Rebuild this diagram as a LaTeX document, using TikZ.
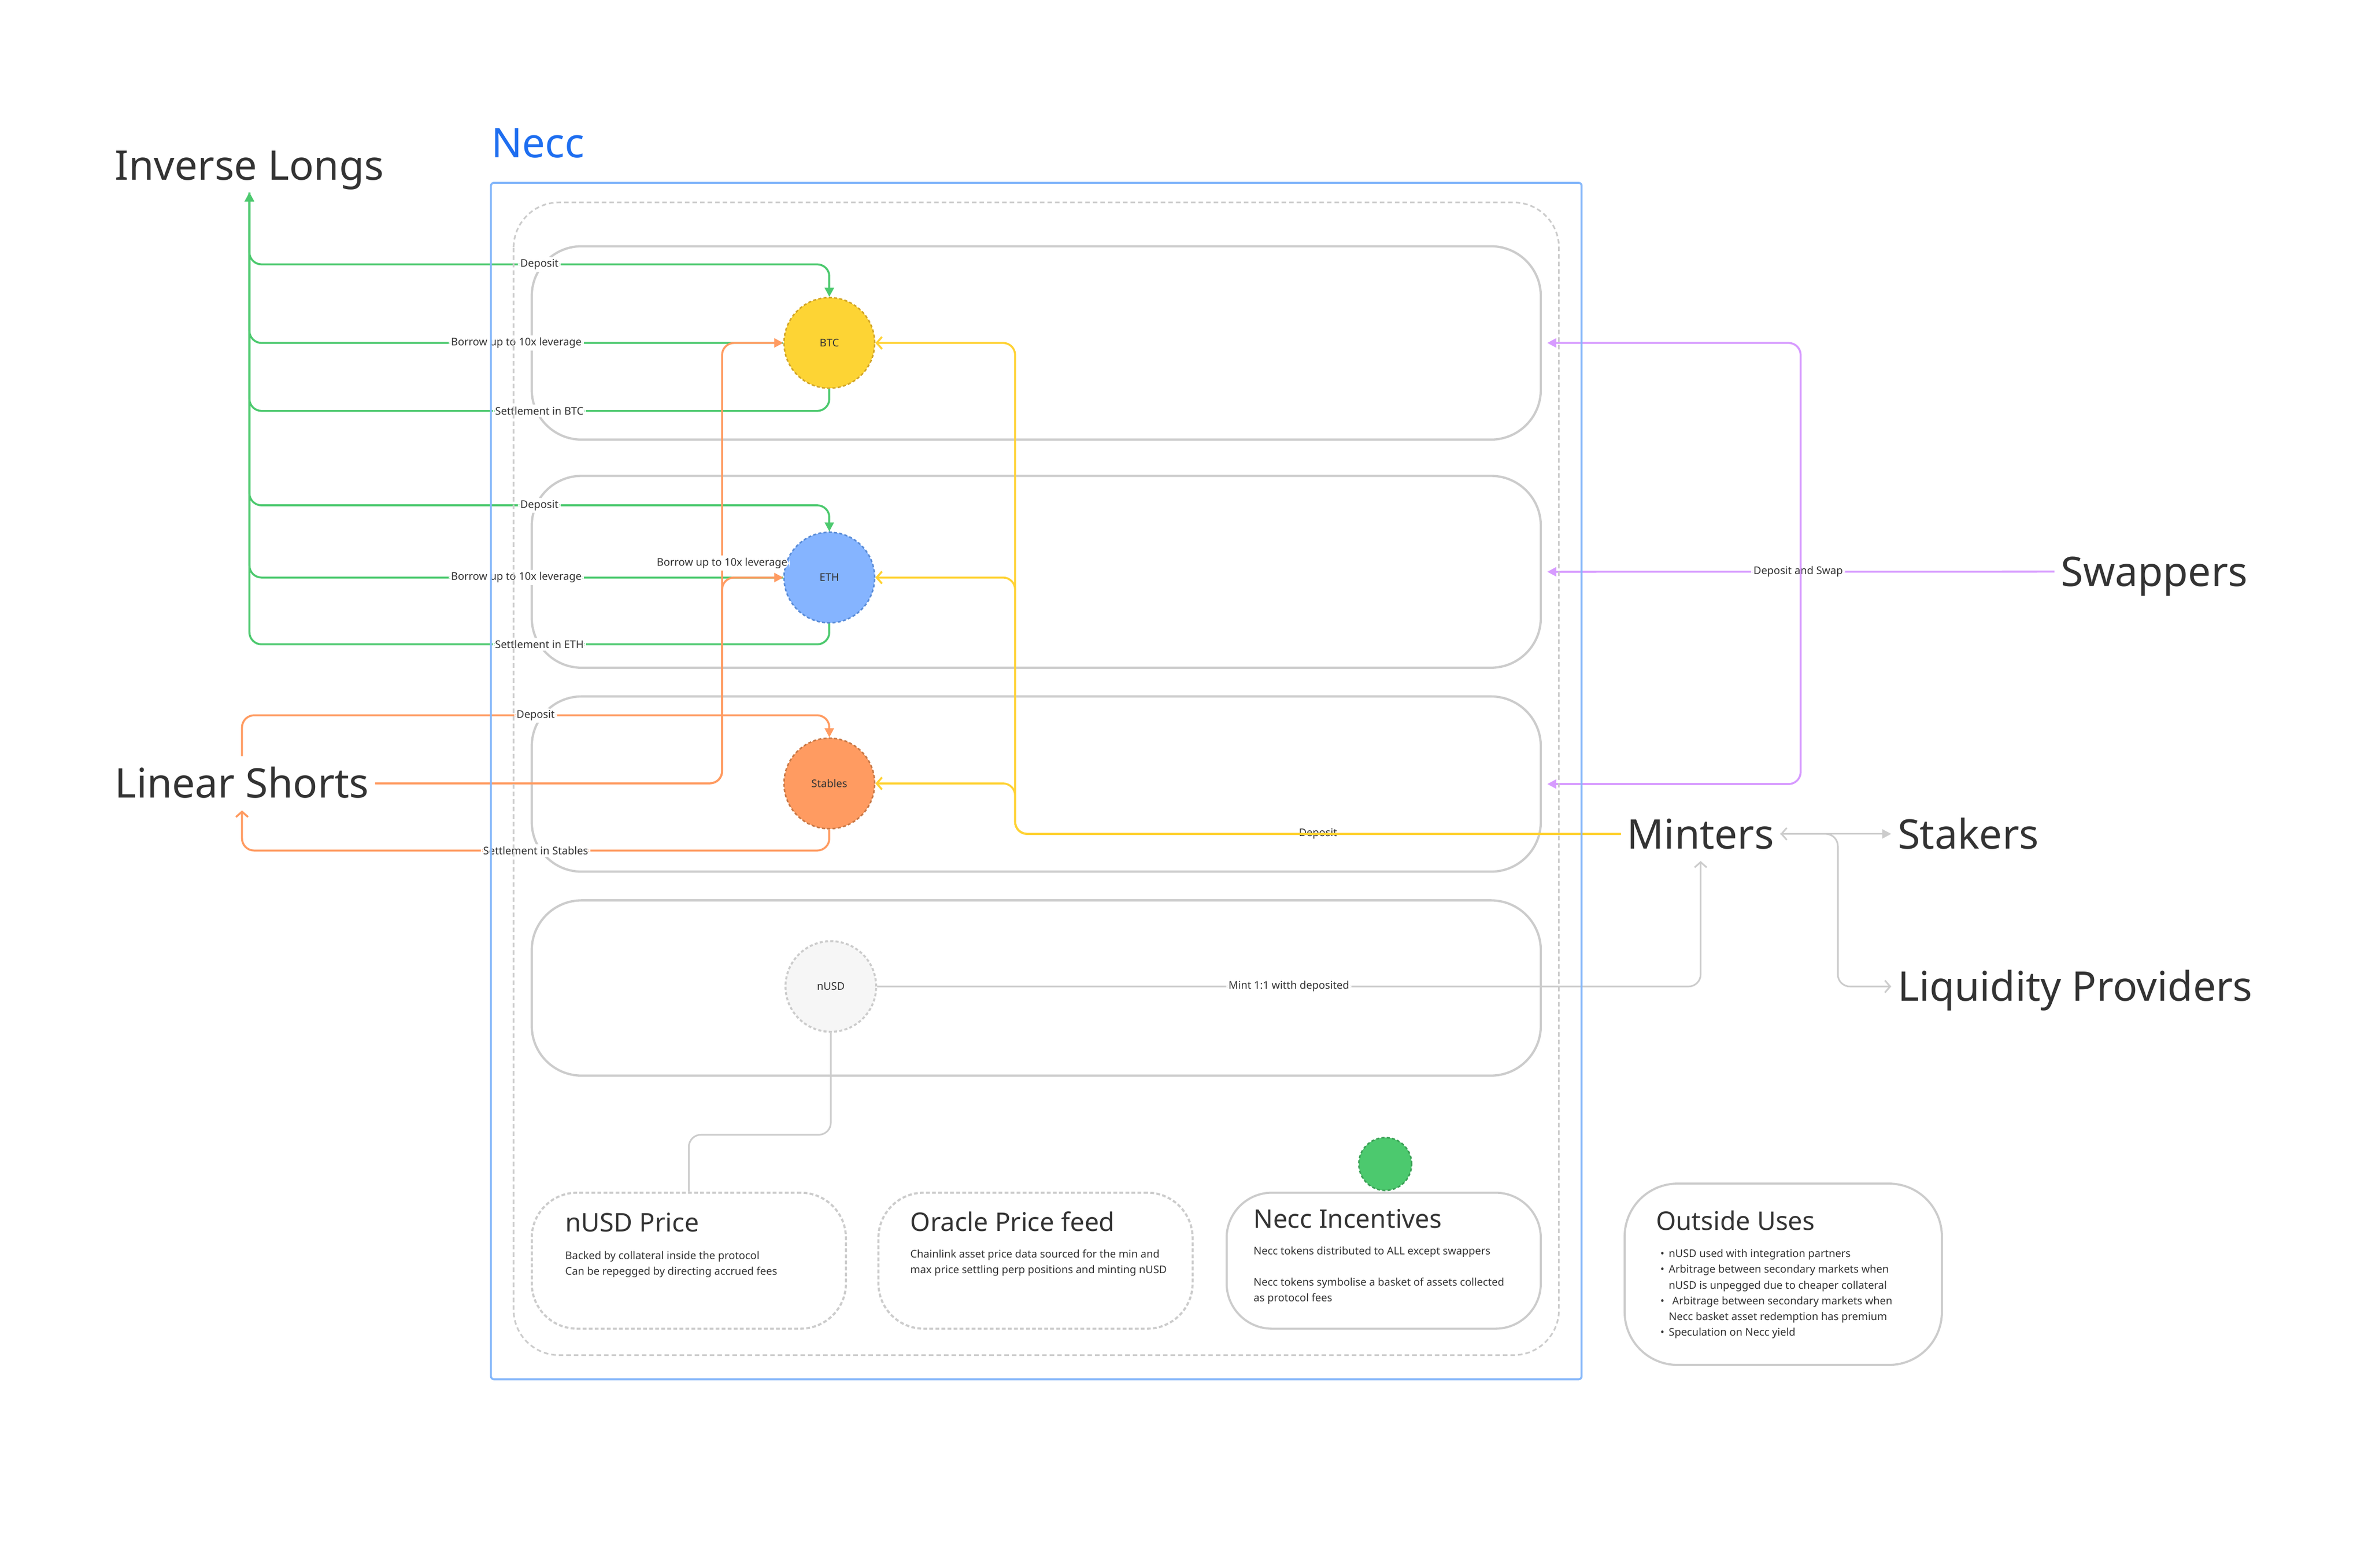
\documentclass[tikz,border=0pt]{standalone}
\usepackage{fontspec}
\setmainfont{Noto Sans}
\usetikzlibrary{arrows.meta, positioning, calc}

\definecolor{ink}{RGB}{51,51,51}
\definecolor{longc}{RGB}{76,201,110}
\definecolor{longdark}{RGB}{58,160,85}
\definecolor{shortc}{RGB}{255,155,97}
\definecolor{stbline}{RGB}{200,120,70}
\definecolor{mintc}{RGB}{255,210,51}
\definecolor{btcfill}{RGB}{253,212,52}
\definecolor{btcline}{RGB}{210,165,40}
\definecolor{ethfill}{RGB}{133,180,255}
\definecolor{ethline}{RGB}{90,140,215}
\definecolor{swapc}{RGB}{215,155,255}
\definecolor{greyc}{RGB}{204,204,204}
\definecolor{usdfill}{RGB}{246,246,246}
\definecolor{framec}{RGB}{133,183,250}
\definecolor{neccblue}{RGB}{30,110,240}

\newcommand{\outbul}{\makebox[5.5pt][l]{\textbullet}}
\newcommand{\outgap}{\hspace*{5.5pt}}

\tikzset{
  tipfill/.tip={Triangle[length=6pt,width=6pt]},
  tipopen/.tip={Straight Barb[length=3.5pt,width=8pt]},
  actor/.style={font=\fontsize{27}{30}\selectfont, text=ink, text height=19.5pt, text depth=0pt, inner xsep=4pt, inner ysep=8pt, anchor=west},
  lbl/.style={font=\fontsize{7}{8}\selectfont, text=ink, fill=white, inner sep=1.5pt},
  lane/.style={draw=greyc, line width=1.5pt, rounded corners=33pt, minimum width=668pt},
  coin/.style={circle, minimum size=60pt, inner sep=0pt, line width=1pt, dash pattern=on 2pt off 1.5pt, font=\fontsize{7}{8}\selectfont, text=ink},
  link/.style={line width=1.3pt, rounded corners=8pt},
  notebox/.style={draw=greyc, line width=1.4pt, dash pattern=on 2.5pt off 1.5pt, rounded corners=30pt, minimum width=208pt, minimum height=90pt},
  boxtitle/.style={font=\fontsize{17}{20}\selectfont, text=ink, inner sep=0pt, anchor=base west},
  boxtext/.style={font=\fontsize{7}{10.4}\selectfont, text=ink, inner sep=0pt, align=left, anchor=north west}
}

\begin{document}
\begin{tikzpicture}[x=1pt,y=-1pt]
  \useasboundingbox (0,0) rectangle (1567.6,1037.6);

  \node[lane, minimum height=128pt] (laneBTC) at (686,227) {};
  \node[lane, minimum height=127pt] (laneETH) at (686,378.5) {};
  \node[lane, minimum height=116pt] (laneSTB) at (686,519) {};
  \node[lane, minimum height=116pt] (laneUSD) at (686,654) {};

  \node[coin, fill=btcfill, draw=btcline] (btc) at (549,227) {BTC};
  \node[coin, fill=ethfill, draw=ethline] (eth) at (549,382.3) {ETH};
  \node[coin, fill=shortc, draw=stbline] (stb) at (549,518.6) {Stables};
  \node[coin, fill=usdfill, draw=greyc, line width=1.3pt] (nusd) at (550,653) {nUSD};
  \node[coin, minimum size=35pt, fill=longc, draw=longdark] (neccdot) at (917,770.5) {};

  \node[actor] (inverse) at (72,109.5) {Inverse Longs};
  \node[actor] (shorts) at (72,518.5) {Linear Shorts};
  \node[actor] (swappers) at (1360,378.4) {Swappers};
  \node[actor] (minters) at (1073,552) {Minters};
  \node[actor] (stakers) at (1252,552) {Stakers};
  \node[actor] (lp) at (1252,653) {Liquidity Providers};
  \node[actor, text=neccblue] (necc) at (321,94.4) {Necc};

  \node[notebox] (pricebox) at (456,834.5) {};
  \node[notebox] (oraclebox) at (685.5,834.5) {};
  \node[notebox, solid] (incentbox) at (916,834.5) {};
  \node[notebox, solid, minimum width=210pt, minimum height=120pt, rounded corners=35pt] (outbox) at (1180.5,843.5) {};

  \node[boxtitle] (pricehead) at (374,815.3) {nUSD Price};
  \node[boxtext] (pricetext) at (374,828) {Backed by collateral inside the protocol\\Can be repegged by directing accrued fees};
  \node[boxtitle] (oraclehead) at (602.4,815) {Oracle Price feed};
  \node[boxtext] (oracletext) at (602.4,827) {Chainlink asset price data sourced for the min and\\max price settling perp positions and minting nUSD};
  \node[boxtitle] (incenthead) at (829.7,813) {Necc Incentives};
  \node[boxtext] (incenttext) at (829.7,825) {Necc tokens distributed to ALL except swappers\\[10.4pt]Necc tokens symbolise a basket of assets collected\\as protocol fees};
  \node[boxtitle] (outhead) at (1096,814.4) {Outside Uses};
  \node[boxtext] (outtext) at (1099,826.8) {\outbul nUSD used with integration partners\\\outbul Arbitrage between secondary markets when\\\outgap nUSD is unpegged due to cheaper collateral\\\outbul\,\,Arbitrage between secondary markets when\\\outgap Necc basket asset redemption has premium\\\outbul Speculation on Necc yield};

  \coordinate (rowA) at (0,175);
  \coordinate (rowB) at (0,272);
  \coordinate (rowC) at (0,334.5);
  \coordinate (rowD) at (0,426.5);
  \coordinate (rowE) at (0,473.5);
  \coordinate (rowF) at (0,563);
  \coordinate (spineS) at (478,0);
  \coordinate (spineM) at (672,0);
  \coordinate (spineW) at (1192,0);

  \draw[link, draw=longc, -tipfill] (inverse.south) |- node[lbl, pos=0.75] {Deposit} (btc |- rowA) -- (btc.north);
  \draw[link, draw=longc, -tipfill] (btc.west) -- node[lbl] {Borrow up to 10x leverage} (inverse.south |- btc.west) -- (inverse.south);
  \draw[link, draw=longc, -tipfill] (btc.south) |- node[lbl, pos=0.75] {Settlement in BTC} (inverse.south |- rowB) -- (inverse.south);
  \draw[link, draw=longc, -tipfill] (inverse.south) |- node[lbl, pos=0.75] {Deposit} (eth |- rowC) -- (eth.north);
  \draw[link, draw=longc, -tipfill] (eth.west) -- node[lbl] {Borrow up to 10x leverage} (inverse.south |- eth.west) -- (inverse.south);
  \draw[link, draw=longc, -tipfill] (eth.south) |- node[lbl, pos=0.75] {Settlement in ETH} (inverse.south |- rowD) -- (inverse.south);

  \draw[link, draw=shortc, -tipfill] (shorts.north) |- node[lbl, pos=0.75] {Deposit} (stb |- rowE) -- (stb.north);
  \draw[link, draw=shortc, -tipopen] (stb.south) |- node[lbl, pos=0.75] {Settlement in Stables} (shorts.south |- rowF) -- (shorts.south);
  \draw[link, draw=shortc, -tipfill] (shorts.east) -| (spineS |- eth) -- (eth.west);
  \draw[link, draw=shortc, -tipfill] (shorts.east) -| node[lbl, pos=0.75] {Borrow up to 10x leverage} (spineS |- btc) -- (btc.west);

  \draw[link, draw=mintc, -tipopen] (minters.west) -- node[lbl, fill=none] {Deposit} (spineM |- minters.west) -- (spineM |- stb) -- (stb.east);
  \draw[link, draw=mintc, -tipopen] (minters.west) -- (spineM |- minters.west) -- (spineM |- eth) -- (eth.east);
  \draw[link, draw=mintc, -tipopen] (minters.west) -- (spineM |- minters.west) -- (spineM |- btc) -- (btc.east);

  \draw[link, draw=swapc, -tipfill, shorten >=3.5pt] (swappers.west) -- node[lbl] {Deposit and Swap} (laneETH.east);
  \draw[link, draw=swapc, -tipfill, shorten >=3.5pt] (spineW |- laneETH.east) |- (laneBTC.east);
  \draw[link, draw=swapc, -tipfill, shorten >=3.5pt] (spineW |- laneETH.east) |- (laneSTB.east);

  \draw[link, draw=greyc, line width=1.1pt, -tipopen] (nusd.east) -- node[lbl] {Mint 1:1 witth deposited} (minters.south |- nusd.east) -- (minters.south);
  \draw[link, draw=greyc, line width=1.1pt, tipopen-tipfill] (minters.east) -- (stakers.west);
  \draw[link, draw=greyc, line width=1.1pt, -tipopen] (minters.east) -- ++(38,0) |- (lp.west);
  \draw[link, draw=greyc, line width=1.1pt] (nusd.south) -- ++(0,67.5) -| (pricebox.north);

  \draw[draw=greyc, line width=1.1pt, dash pattern=on 3pt off 2pt, rounded corners=30pt] (340,134) rectangle (1032,897);
  \draw[draw=framec, line width=1.3pt, rounded corners=2pt] (325,121) rectangle (1047,913);
\end{tikzpicture}
\end{document}
